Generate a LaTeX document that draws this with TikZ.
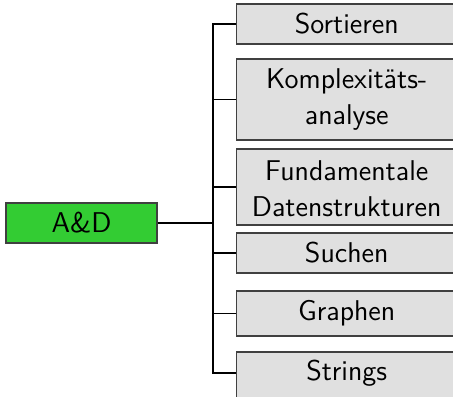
\documentclass[tikz,border=0pt]{standalone}
\usepackage{fontspec}
\newcommand{\topictext}[1]{\begin{tabular}{@{}c@{\hspace{10pt}}}#1\end{tabular}}
\newcommand{\topicline}[1]{#1\kern10pt}
\begin{document}
\begin{tikzpicture}[x=0.5pt,y=-0.5pt,
  every node/.style={font=\sffamily\fontsize{14.3}{18}\selectfont, inner sep=0pt},
  topic/.style={draw=black!75, line width=0.7pt, fill=black!12, anchor=west,
    minimum width=120pt},
  root/.style={draw=black!75, line width=0.7pt, fill={rgb,255:red,51;green,204;blue,51},
    minimum width=75.5pt, minimum height=20pt},
  link/.style={line width=0.9pt, black}]
\clip (0,0) rectangle (453,396);
\node[root] (ad) at (81.5,223) {A\&D};
\coordinate (j) at (213,223);
\node[topic, minimum height=20pt] (sort) at (236,24) {\topicline{Sortieren}};
\node[topic, minimum height=40.5pt] (komp) at (236,99.5) {\topictext{Komplexitäts-\\analyse}};
\node[topic, minimum height=38pt] (fund) at (236,187) {\raisebox{-2pt}[\height][\depth]{\topictext{Fundamentale\\Datenstrukturen}}};
\node[topic, minimum height=20pt] (such) at (236,253) {\topicline{Suchen}};
\node[topic, minimum height=22.5pt] (graph) at (236,313.5) {\topicline{Graphen}};
\node[topic, minimum height=24pt] (str) at (236,376) {\raisebox{1.5pt}[\height][\depth]{\topicline{Strings}}};
\draw[link] (ad.east) -- (j);
\foreach \n in {sort,komp,fund,such,graph} \draw[link] (j) |- (\n.west);
\draw[link] (j) |- ([yshift=1.5pt]str.west);
\end{tikzpicture}
\end{document}
